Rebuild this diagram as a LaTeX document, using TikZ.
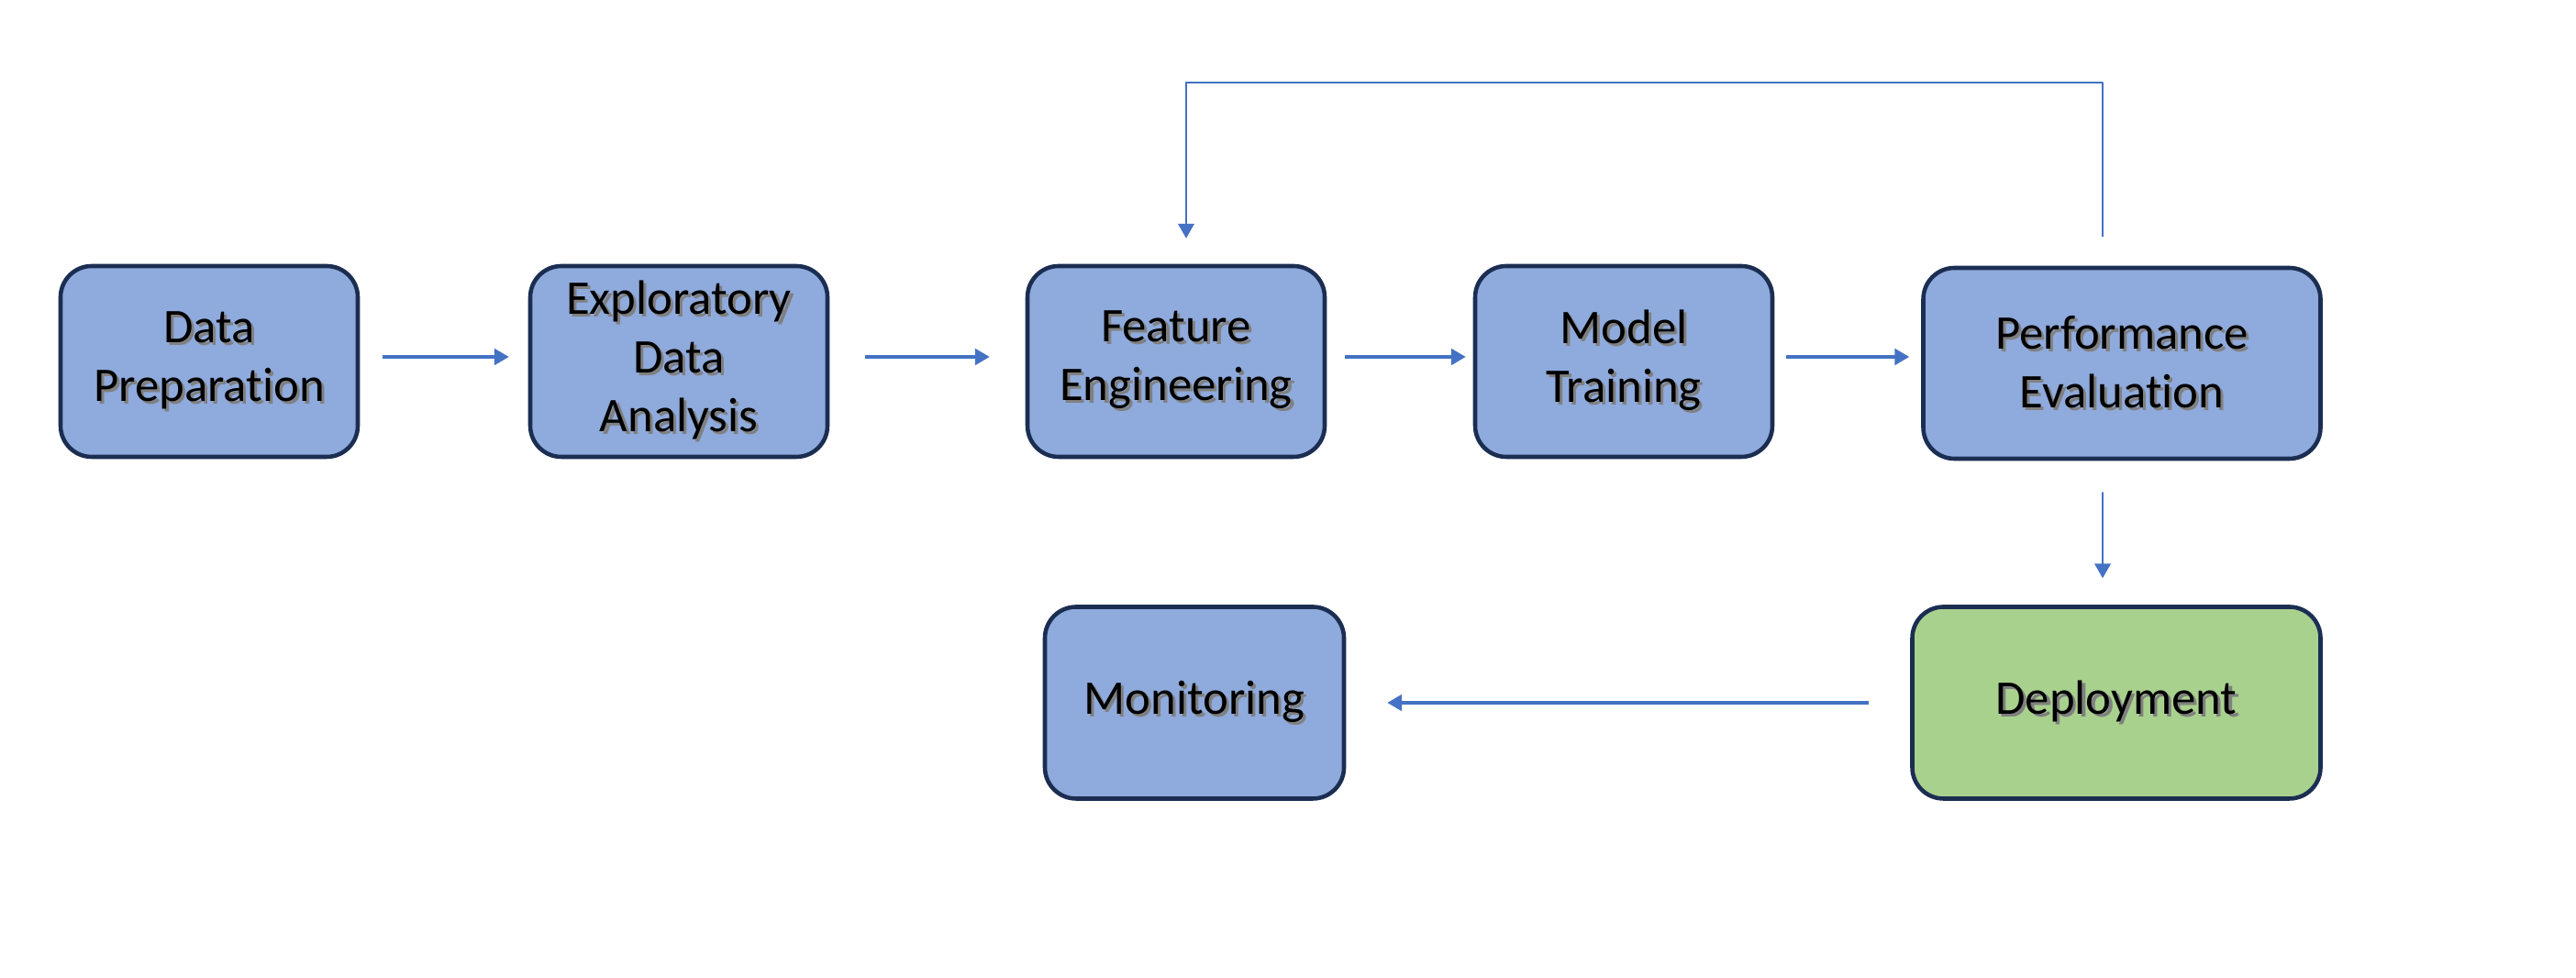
\documentclass[tikz,border=0pt]{standalone}
\usepackage{fontspec}
\setmainfont[Ligatures=NoCommon]{Carlito}
\usepackage{xcolor}
\usetikzlibrary{arrows.meta}
\definecolor{boxblue}{HTML}{8FAADC}
\definecolor{boxgreen}{HTML}{A9D18E}
\definecolor{boxline}{HTML}{1B2E52}
\definecolor{arrowblue}{HTML}{4472C4}
\newcommand{\shd}[1]{\leavevmode\rlap{\kern0.9pt\raisebox{-0.9pt}{\textcolor{black!50}{#1}}}#1}
\tikzset{
  every picture/.style={line join=round, >=Stealth},
  stage/.style={draw=boxline, line width=1.3pt, fill=boxblue, rounded corners=0.34cm,
    minimum width=3.24cm, minimum height=2.08cm, align=center,
    font=\fontsize{15}{18.2}\selectfont},
  flow/.style={draw=arrowblue, line width=0.9pt, -{Triangle[length=4.5pt,width=5pt]}},
  thinflow/.style={flow, line width=0.5pt},
}

\begin{document}
\begin{tikzpicture}
\useasboundingbox (0,0) rectangle (28.08,10.66);
\node[stage] (prep) at (2.28,6.72) {\shd{Data}\\\shd{Preparation}};
\node[stage] (eda) at (7.40,6.72) {\shd{Exploratory}\\\shd{Data}\\\shd{Analysis}};
\node[stage] (feat) at (12.82,6.72) {\shd{Feature}\\\shd{Engineering}};
\node[stage] (model) at (17.70,6.72) {\shd{Model}\\\shd{Training}};
\node[stage, minimum width=4.33cm] (perf) at (23.13,6.70) {\shd{Performance}\\\shd{Evaluation}};
\node[stage, fill=boxgreen, minimum width=4.45cm, minimum height=2.09cm] (deploy) at (23.07,3.00) {\shd{Deployment}};
\node[stage, minimum width=3.26cm, minimum height=2.09cm] (mon) at (13.02,3.00) {\shd{Monitoring}};
\coordinate (loop) at (0,9.76);
\draw[flow, shorten <=0.25cm, shorten >=0.21cm] ([yshift=0.05cm]prep.east) -- ([yshift=0.05cm]eda.west);
\draw[flow, shorten <=0.39cm, shorten >=0.39cm] ([yshift=0.05cm]eda.east) -- ([yshift=0.05cm]feat.west);
\draw[flow, shorten <=0.20cm, shorten >=0.08cm] ([yshift=0.05cm]feat.east) -- ([yshift=0.05cm]model.west);
\draw[flow, shorten <=0.13cm, shorten >=0.13cm] ([yshift=0.05cm]model.east) -- ([yshift=0.07cm]perf.west);
\draw[thinflow, shorten <=0.34cm, shorten >=0.29cm] ([xshift=-0.21cm]perf.south) -- ([xshift=-0.15cm]deploy.north);
\draw[flow, shorten <=0.45cm, shorten >=0.45cm] (deploy.west) -- (mon.east);
\draw[thinflow, shorten <=0.32cm, shorten >=0.28cm] ([xshift=-0.21cm]perf.north)
  -- ([xshift=-0.21cm]perf.north |- loop) -- ([xshift=0.11cm]feat.north |- loop)
  -- ([xshift=0.11cm]feat.north);
\end{tikzpicture}
\end{document}
